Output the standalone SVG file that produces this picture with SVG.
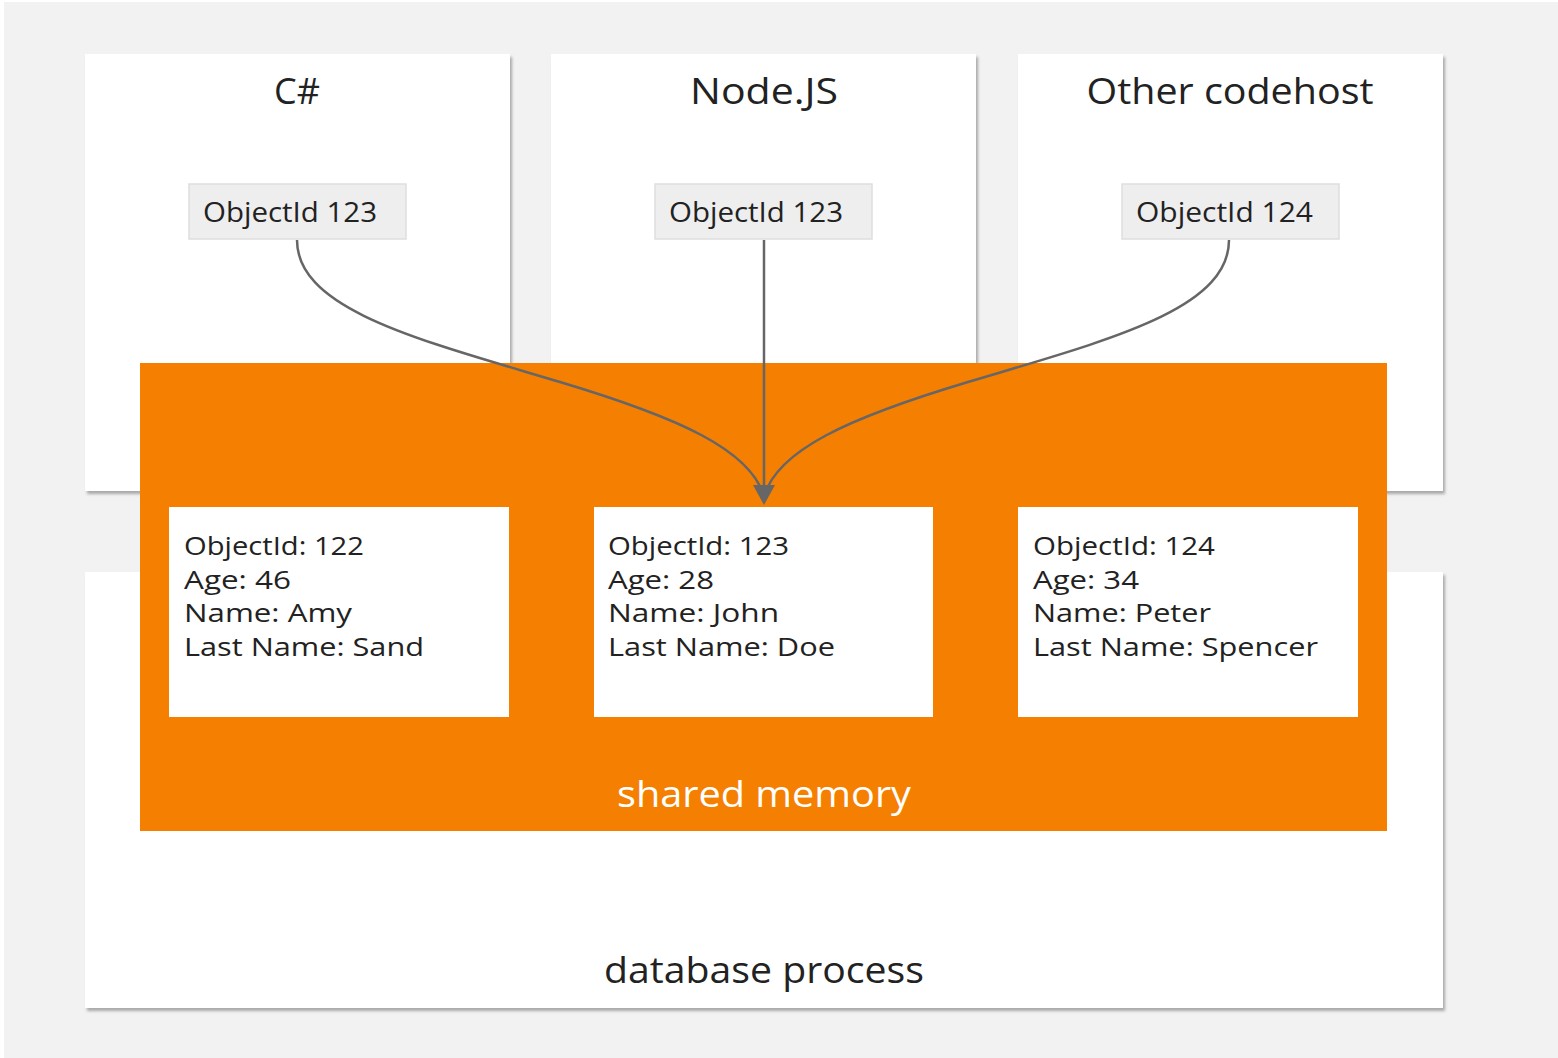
<svg xmlns="http://www.w3.org/2000/svg" width="1558" height="1058" viewBox="0 0 1558 1058">
<defs>
<filter id="sh" x="-5%" y="-5%" width="110%" height="110%">
<feDropShadow dx="2" dy="3" stdDeviation="1.5" flood-color="#000" flood-opacity="0.3"/>
</filter>
<marker id="arr" markerWidth="24" markerHeight="24" refX="1" refY="11" orient="auto" markerUnits="userSpaceOnUse">
<path d="M0,0 L20,11 L0,22 Z" fill="#666"/>
</marker>
<style>
.panel{fill:#fff;filter:url(#sh)}
.tag{fill:#eeeeee;stroke:#dedede;stroke-width:1.5}
.rec{fill:#fff}
.t{font-family:"Open Sans","Liberation Sans",sans-serif;fill:#222}
.title{font-size:36px;text-anchor:middle}
.tagt{font-size:28px}
.rect{font-size:26px}
.edge{fill:none;stroke:#666;stroke-width:2.5}
</style>
</defs>
<rect x="0" y="0" width="1558" height="1058" fill="#fff"/>
<rect x="4" y="2" width="1554" height="1056" fill="#f2f2f2"/>

<g id="db-process">
<rect class="panel" x="85" y="572" width="1358" height="436"/>
<text class="t title" x="764" y="983" textLength="320" lengthAdjust="spacingAndGlyphs">database process</text>
</g>

<g id="csharp">
<rect class="panel" x="85" y="54" width="425" height="437"/>
<text class="t title" x="297" y="104">C#</text>
</g>
<g id="nodejs">
<rect class="panel" x="551" y="54" width="425" height="437"/>
<text class="t title" x="764" y="104" textLength="148" lengthAdjust="spacingAndGlyphs">Node.JS</text>
</g>
<g id="other">
<rect class="panel" x="1018" y="54" width="425" height="437"/>
<text class="t title" x="1230" y="104" textLength="287" lengthAdjust="spacingAndGlyphs">Other codehost</text>
</g>

<g id="tag-csharp">
<rect class="tag" x="189" y="184" width="217" height="55"/>
<text class="t tagt" x="203" y="222" textLength="174" lengthAdjust="spacingAndGlyphs">ObjectId 123</text>
</g>
<g id="tag-nodejs">
<rect class="tag" x="655" y="184" width="217" height="55"/>
<text class="t tagt" x="669" y="222" textLength="174" lengthAdjust="spacingAndGlyphs">ObjectId 123</text>
</g>
<g id="tag-other">
<rect class="tag" x="1122" y="184" width="217" height="55"/>
<text class="t tagt" x="1136" y="222" textLength="177" lengthAdjust="spacingAndGlyphs">ObjectId 124</text>
</g>

<g id="shared-memory">
<rect x="140" y="363" width="1247" height="468" fill="#f57f00"/>
<text class="t title" x="764" y="807" style="fill:#fff" textLength="294" lengthAdjust="spacingAndGlyphs">shared memory</text>
</g>

<g id="rec-122">
<rect class="rec" x="169" y="507" width="340" height="210"/>
<text class="t rect" x="184" y="555" textLength="180" lengthAdjust="spacingAndGlyphs">ObjectId: 122</text>
<text class="t rect" x="184" y="589" textLength="107" lengthAdjust="spacingAndGlyphs">Age: 46</text>
<text class="t rect" x="184" y="622" textLength="168" lengthAdjust="spacingAndGlyphs">Name: Amy</text>
<text class="t rect" x="184" y="656" textLength="240" lengthAdjust="spacingAndGlyphs">Last Name: Sand</text>
</g>
<g id="rec-123">
<rect class="rec" x="594" y="507" width="339" height="210"/>
<text class="t rect" x="608" y="555" textLength="181" lengthAdjust="spacingAndGlyphs">ObjectId: 123</text>
<text class="t rect" x="608" y="589" textLength="106" lengthAdjust="spacingAndGlyphs">Age: 28</text>
<text class="t rect" x="608" y="622" textLength="171" lengthAdjust="spacingAndGlyphs">Name: John</text>
<text class="t rect" x="608" y="656" textLength="227" lengthAdjust="spacingAndGlyphs">Last Name: Doe</text>
</g>
<g id="rec-124">
<rect class="rec" x="1018" y="507" width="340" height="210"/>
<text class="t rect" x="1033" y="555" textLength="182" lengthAdjust="spacingAndGlyphs">ObjectId: 124</text>
<text class="t rect" x="1033" y="589" textLength="106" lengthAdjust="spacingAndGlyphs">Age: 34</text>
<text class="t rect" x="1033" y="622" textLength="178" lengthAdjust="spacingAndGlyphs">Name: Peter</text>
<text class="t rect" x="1033" y="656" textLength="285" lengthAdjust="spacingAndGlyphs">Last Name: Spencer</text>
</g>

<g id="connectors">
<path class="edge" d="M297,240 C297,310 420,340 560,382 C680,418 750,450 764,496"/>
<path class="edge" d="M1229,240 C1229,310 1108,340 968,382 C848,418 778,450 764,496"/>
<path class="edge" d="M764,240 L764,486" marker-end="url(#arr)"/>
</g>
</svg>
